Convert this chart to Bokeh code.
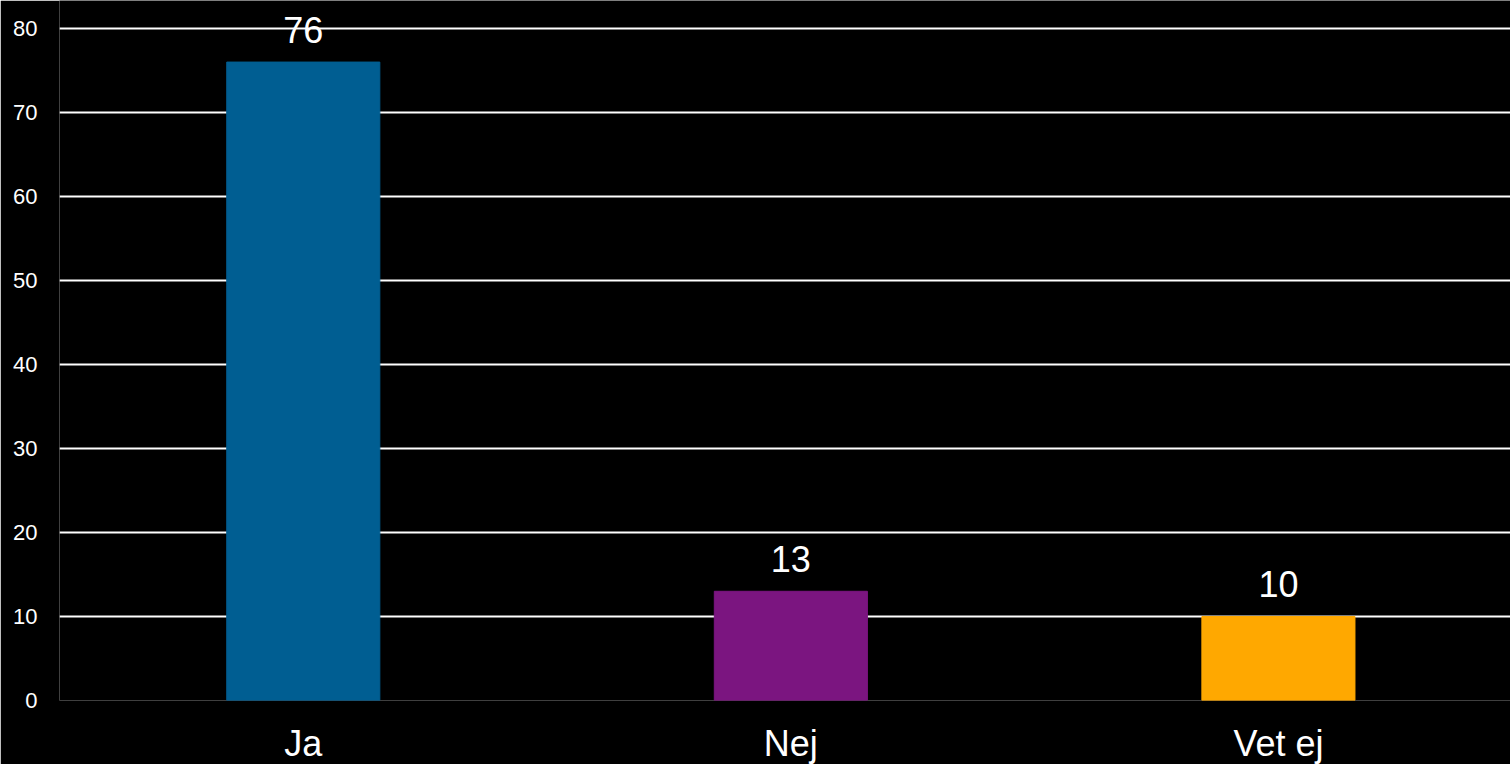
from bokeh.plotting import figure
from bokeh.models import ColumnDataSource, Range1d, FixedTicker
from bokeh.core.properties import value
from bokeh.embed import file_html
from bokeh.resources import INLINE

categories = ["Ja", "Nej", "Vet ej"]
values = [76, 13, 10]
colors = ["#005E92", "#7B1580", "#FFA800"]
labels = [str(v) for v in values]
y_ticks = [0, 10, 20, 30, 40, 50, 60, 70, 80]

positions = [i + 0.5 for i in range(len(categories))]
src = ColumnDataSource(dict(x=positions, val=values, color=colors, label=labels))

p = figure(x_range=Range1d(0, 2.976),
           y_range=Range1d(0, 83.33),
           width=1510, height=766, output_backend="svg", toolbar_location=None,
           min_border_left=59, min_border_right=0, min_border_top=0, min_border_bottom=64)
p.background_fill_color = "black"
p.border_fill_color = "black"
p.outline_line_color = None

p.vbar(x="x", top="val", width=0.314, color="color", source=src)
p.text(x="x", y="val", text="label", source=src, text_color="white",
       text_font=value("Liberation Sans"), text_font_size="36px",
       text_align="center", text_baseline="alphabetic", y_offset=-32)

p.xgrid.grid_line_color = None
p.ygrid.grid_line_color = "white"
p.ygrid.grid_line_width = 2
p.ygrid.ticker = y_ticks
p.yaxis.ticker = y_ticks
p.xaxis.ticker = FixedTicker(ticks=positions)
p.xaxis.major_label_overrides = {pos: cat for pos, cat in zip(positions, categories)}

for ax in (p.xaxis[0], p.yaxis[0]):
    ax.axis_line_color = None
    ax.major_tick_line_color = None
    ax.minor_tick_line_color = None
    ax.major_tick_out = 0
    ax.major_tick_in = 0
    ax.minor_tick_out = 0
    ax.minor_tick_in = 0
    ax.major_label_text_color = "white"
    ax.major_label_text_font = "Liberation Sans"

p.yaxis.major_label_text_font_size = "22px"
p.yaxis.major_label_standoff = 22
p.xaxis.major_label_text_font_size = "36px"
p.xaxis.major_label_standoff = 22
p.xaxis.major_label_text_line_height = 1.0

html = file_html(p, INLINE)
html = html.replace("<body>", '<body style="margin:0;overflow:hidden;background:black">', 1)
open("out.html", "w").write(html)
